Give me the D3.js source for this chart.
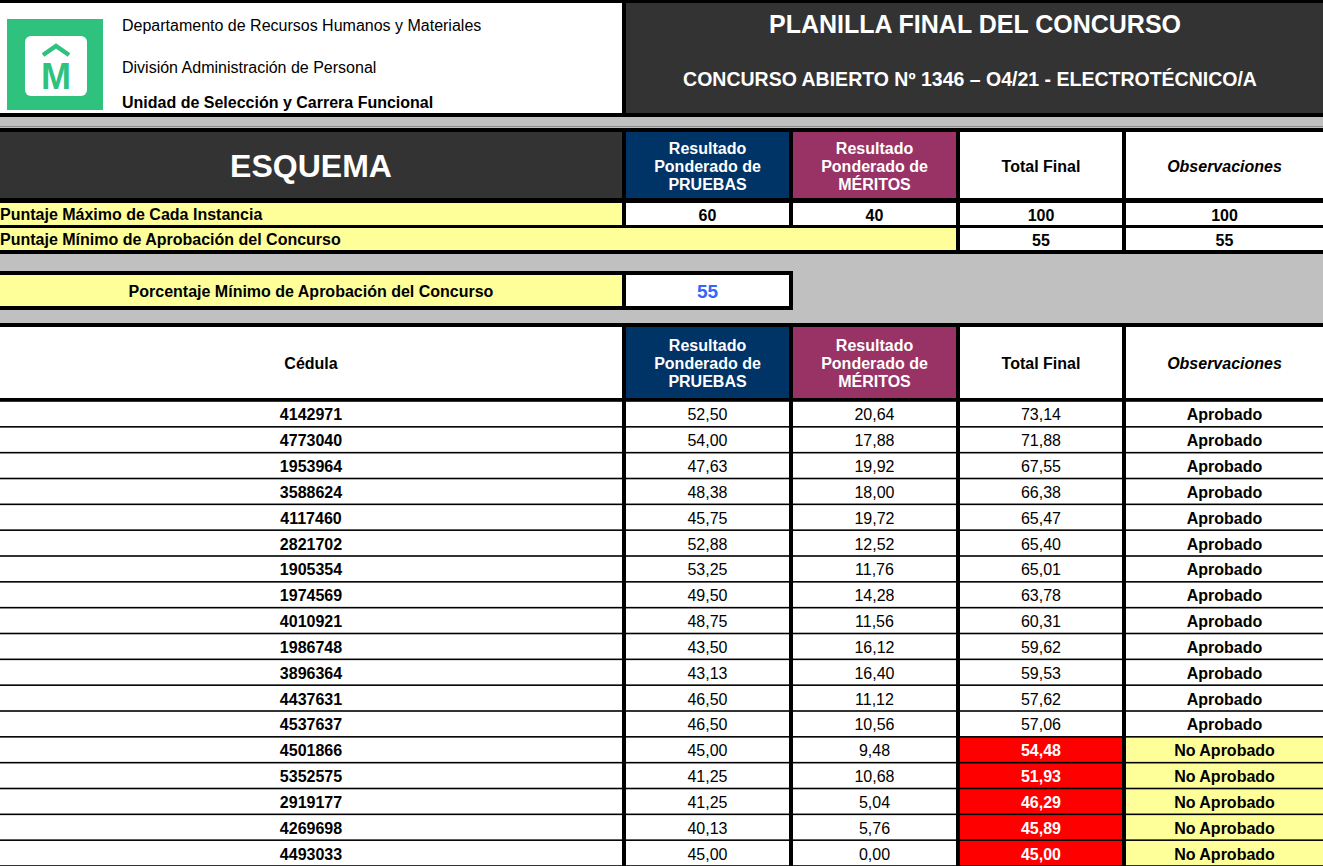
<!DOCTYPE html>
<html>
<head>
<meta charset="utf-8">
<script src="https://cdn.jsdelivr.net/npm/d3@7"></script>
<style>
  body { margin: 0; background: #c0c0c0; }
  svg text { font-family: "Liberation Sans", Arial, sans-serif; }
</style>
</head>
<body>
<div id="chart"></div>
<script>
// data
const cedulas = ["4142971", "4773040", "1953964", "3588624", "4117460", "2821702",
  "1905354", "1974569", "4010921", "1986748", "3896364", "4437631", "4537637",
  "4501866", "5352575", "2919177", "4269698", "4493033"];
const pruebas = [52.50, 54.00, 47.63, 48.38, 45.75, 52.88, 53.25, 49.50, 48.75,
  43.50, 43.13, 46.50, 46.50, 45.00, 41.25, 41.25, 40.13, 45.00];
const meritos = [20.64, 17.88, 19.92, 18.00, 19.72, 12.52, 11.76, 14.28, 11.56,
  16.12, 16.40, 11.12, 10.56, 9.48, 10.68, 5.04, 5.76, 0.00];
const totales = [73.14, 71.88, 67.55, 66.38, 65.47, 65.40, 65.01, 63.78, 60.31,
  59.62, 59.53, 57.62, 57.06, 54.48, 51.93, 46.29, 45.89, 45.00];
const observaciones = ["Aprobado", "Aprobado", "Aprobado", "Aprobado", "Aprobado",
  "Aprobado", "Aprobado", "Aprobado", "Aprobado", "Aprobado", "Aprobado", "Aprobado",
  "Aprobado", "No Aprobado", "No Aprobado", "No Aprobado", "No Aprobado", "No Aprobado"];

const puntajeMaximo = [60, 40, 100, 100];   // pruebas, meritos, total, obs
const puntajeMinimo = [55, 55];             // total, obs
const porcentajeMinimo = 55;

const headerLines = [["Resultado", "Ponderado de", "PRUEBAS"], ["Resultado", "Ponderado de", "MÉRITOS"]];

const width = 1323, height = 866;
const colors = {
  dark: "#333333", blue: "#003366", purple: "#993366", yellow: "#ffff99",
  gray: "#c0c0c0", red: "#ff0000", green: "#2ec27e", link: "#3366ff"
};

// column edges (centre of the black rule between columns)
const edges = [0, 624, 791, 958, 1124, 1323];
const colX = i => i === 0 ? 0 : edges[i] + 2;
const colW = i => (i === 4 ? edges[5] : edges[i + 1] - 2) - colX(i);
const colC = i => colX(i) + colW(i) / 2;

const fmt = d3.formatLocale({ decimal: ",", thousands: ".", grouping: [3], currency: ["", ""] }).format(".2f");

const svg = d3.select("#chart").append("svg")
  .attr("width", width)
  .attr("height", height);

svg.append("rect").attr("width", width).attr("height", height).attr("fill", colors.gray);

function cell(x, y, w, h, fill) {
  return svg.append("rect").attr("x", x).attr("y", y).attr("width", w).attr("height", h).attr("fill", fill);
}
function label(x, y, str, o) {
  o = o || {};
  return svg.append("text")
    .attr("x", x).attr("y", y)
    .attr("text-anchor", o.anchor || "middle")
    .attr("dominant-baseline", "central")
    .attr("font-size", o.size || 16)
    .attr("font-weight", o.bold ? "bold" : "normal")
    .attr("font-style", o.italic ? "italic" : "normal")
    .attr("fill", o.color || "#000")
    .text(str);
}

// ---- top banner
cell(0, 0, width, 117, "#000");
cell(0, 3, 622, 110, "#fff");
cell(626, 3, width - 626, 110, colors.dark);
svg.append("line").attr("x1", 0).attr("x2", width).attr("y1", 126.5).attr("y2", 126.5)
  .attr("stroke", "#8a8a8a").attr("stroke-width", 1);

// logo
cell(7, 19, 96, 91, colors.green);
svg.append("rect").attr("x", 25).attr("y", 36).attr("width", 62).attr("height", 60)
  .attr("rx", 6).attr("fill", "#fff");
svg.append("path").attr("d", "M43,55 L56,46 L69,55")
  .attr("fill", "none").attr("stroke", colors.green).attr("stroke-width", 4.5);
label(56, 76, "M", { size: 36, bold: true, color: colors.green });

label(122, 25, "Departamento de Recursos Humanos y Materiales", { anchor: "start" });
label(122, 67, "División Administración de Personal", { anchor: "start" });
label(122, 102, "Unidad de Selección y Carrera Funcional", { anchor: "start", bold: true });

label(975, 24, "PLANILLA FINAL DEL CONCURSO", { size: 25, bold: true, color: "#fff" });
label(970, 79, "CONCURSO ABIERTO Nº 1346 – O4/21 - ELECTROTÉCNICO/A", { size: 19.5, bold: true, color: "#fff" });

// header of a column block (blue / purple / total / obs)
function columnHeads(y0, h, firstFill, firstText, firstSize) {
  cell(colX(0), y0, colW(0), h, firstFill);
  label(colC(0), y0 + h / 2 + 1, firstText, { size: firstSize, bold: true, color: firstFill === "#fff" ? "#000" : "#fff" });
  [colors.blue, colors.purple].forEach((c, i) => {
    cell(colX(i + 1), y0, colW(i + 1), h, c);
    headerLines[i].forEach((t, k) => label(colC(i + 1), y0 + h / 2 + 1 + (k - 1) * 18, t, { bold: true, color: "#fff" }));
  });
  cell(colX(3), y0, colW(3), h, "#fff");
  label(colC(3), y0 + h / 2 + 1, "Total Final", { bold: true });
  cell(colX(4), y0, colW(4), h, "#fff");
  label(colC(4), y0 + h / 2 + 1, "Observaciones", { bold: true, italic: true });
}

// ---- esquema block
cell(0, 128, width, 126, "#000");
columnHeads(132, 66, colors.dark, "ESQUEMA", 32);

cell(colX(0), 203, colW(0), 22, colors.yellow);
label(0, 214, "Puntaje Máximo de Cada Instancia", { anchor: "start", bold: true });
puntajeMaximo.forEach((v, i) => {
  cell(colX(i + 1), 203, colW(i + 1), 22, "#fff");
  label(colC(i + 1), 215, v, { bold: true });
});

cell(0, 228, colX(3) - 4, 22, colors.yellow);
label(0, 239, "Puntaje Mínimo de Aprobación del Concurso", { anchor: "start", bold: true });
puntajeMinimo.forEach((v, i) => {
  cell(colX(i + 3), 228, colW(i + 3), 22, "#fff");
  label(colC(i + 3), 240, v, { bold: true });
});

// ---- porcentaje minimo
cell(0, 271, edges[2] + 2, 39, "#000");
cell(colX(0), 275, colW(0), 31, colors.yellow);
label(colC(0), 291, "Porcentaje Mínimo de Aprobación del Concurso", { bold: true });
cell(colX(1), 275, colW(1), 31, "#fff");
label(colC(1), 291, porcentajeMinimo, { size: 19, bold: true, color: colors.link });

// ---- results table
cell(0, 323, width, height - 323, "#000");
columnHeads(327, 71, "#fff", "Cédula", 16);

const y = d3.scaleBand().domain(cedulas).range([401, height]);
const rows = cedulas.map((c, i) => ({
  cedula: c, pruebas: pruebas[i], meritos: meritos[i], total: totales[i], obs: observaciones[i]
}));

const row = svg.selectAll("g.row").data(rows).enter().append("g").attr("class", "row")
  .attr("transform", d => "translate(0," + y(d.cedula) + ")");

const bh = y.bandwidth();
const fails = d => d.total < porcentajeMinimo;
const cols = [
  { key: "cedula", text: d => d.cedula, bold: () => true, fill: () => "#fff", color: () => "#000" },
  { key: "pruebas", text: d => fmt(d.pruebas), bold: () => false, fill: () => "#fff", color: () => "#000" },
  { key: "meritos", text: d => fmt(d.meritos), bold: () => false, fill: () => "#fff", color: () => "#000" },
  { key: "total", text: d => fmt(d.total), bold: fails, fill: d => fails(d) ? colors.red : "#fff", color: d => fails(d) ? "#fff" : "#000" },
  { key: "obs", text: d => d.obs, bold: () => true, fill: d => fails(d) ? colors.yellow : "#fff", color: () => "#000" }
];

cols.forEach((c, i) => {
  row.append("rect")
    .attr("x", colX(i)).attr("y", 0.8)
    .attr("width", colW(i)).attr("height", bh - 1.6)
    .attr("fill", c.fill);
  row.append("text")
    .attr("x", colC(i)).attr("y", bh / 2 + 1)
    .attr("text-anchor", "middle")
    .attr("dominant-baseline", "central")
    .attr("font-size", 16)
    .attr("font-weight", d => c.bold(d) ? "bold" : "normal")
    .attr("fill", c.color)
    .text(c.text);
});
</script>
</body>
</html>
